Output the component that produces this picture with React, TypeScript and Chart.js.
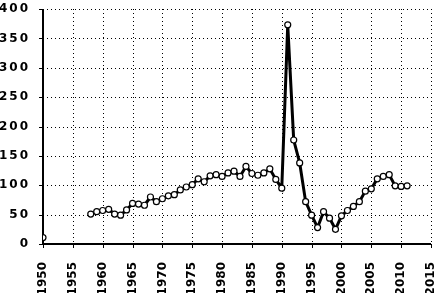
import React, { useEffect, useRef } from "react";
import { Chart, registerables } from "chart.js";

Chart.register(...registerables);

const years: number[] = [
  1950, 1951, 1952, 1953, 1954, 1955, 1956, 1957, 1958, 1959,
  1960, 1961, 1962, 1963, 1964, 1965, 1966, 1967, 1968, 1969,
  1970, 1971, 1972, 1973, 1974, 1975, 1976, 1977, 1978, 1979,
  1980, 1981, 1982, 1983, 1984, 1985, 1986, 1987, 1988, 1989,
  1990, 1991, 1992, 1993, 1994, 1995, 1996, 1997, 1998, 1999,
  2000, 2001, 2002, 2003, 2004, 2005, 2006, 2007, 2008, 2009,
  2010, 2011,
];

const values: (number | null)[] = [
  11, null, null, null, null, null, null, null, 51, 55,
  57, 59, 51, 49, 58, 69, 68, 66, 80, 72,
  77, 82, 84, 92, 97, 101, 111, 106, 116, 118,
  115, 121, 124, 115, 132, 120, 117, 121, 128, 110,
  95, 373, 177, 138, 72, 49, 28, 55, 44, 25,
  48, 57, 64, 72, 90, 94, 111, 115, 118, 99,
  98, 99,
];

const xMin = 1950;
const xMax = 2015;
const xStep = 5;
const yMin = 0;
const yMax = 400;
const yStep = 50;

const tickFont = { family: "'DejaVu Sans', sans-serif", weight: "bold" as const, size: 12 };

// Draws dotted grid lines, tick marks and axis lines from the scales' own ticks.
const dottedGridPlugin = {
  id: "dottedGrid",
  beforeDatasetsDraw(chart: any) {
    const { ctx, chartArea } = chart;
    const xs = chart.scales.x;
    const ys = chart.scales.y;
    ctx.save();
    ctx.strokeStyle = "#000";
    ctx.lineWidth = 1;
    ctx.setLineDash([1, 3]);
    xs.ticks.forEach((t: any) => {
      const px = Math.round(xs.getPixelForValue(t.value)) + 0.5;
      ctx.beginPath();
      ctx.moveTo(px, chartArea.top);
      ctx.lineTo(px, chartArea.bottom);
      ctx.stroke();
    });
    ys.ticks.forEach((t: any) => {
      const py = Math.round(ys.getPixelForValue(t.value)) + 0.5;
      ctx.beginPath();
      ctx.moveTo(chartArea.left, py);
      ctx.lineTo(chartArea.right, py);
      ctx.stroke();
    });
    ctx.setLineDash([]);
    ctx.lineWidth = 1;
    xs.ticks.forEach((t: any) => {
      const px = Math.round(xs.getPixelForValue(t.value)) + 0.5;
      ctx.beginPath();
      ctx.moveTo(px, chartArea.bottom);
      ctx.lineTo(px, chartArea.bottom + 4);
      ctx.stroke();
    });
    ys.ticks.forEach((t: any) => {
      const py = Math.round(ys.getPixelForValue(t.value)) + 0.5;
      ctx.beginPath();
      ctx.moveTo(chartArea.left - 4, py);
      ctx.lineTo(chartArea.left, py);
      ctx.stroke();
    });
    ctx.lineWidth = 2;
    ctx.beginPath();
    ctx.moveTo(chartArea.left, chartArea.top);
    ctx.lineTo(chartArea.left, chartArea.bottom);
    ctx.lineTo(chartArea.right, chartArea.bottom);
    ctx.stroke();
    ctx.restore();
  },
};

const ySpacingPlugin = {
  id: "ySpacing",
  afterLayout(chart: any) {
    const s = chart.scales.y;
    if (s && !s.__patched) {
      const orig = s.drawLabels.bind(s);
      s.drawLabels = (area: any) => {
        const ctx = chart.ctx;
        ctx.save();
        (ctx as any).letterSpacing = "2px";
        orig(area);
        ctx.restore();
      };
      s.__patched = true;
    }
  },
};

export default function App() {
  const ref = useRef<HTMLCanvasElement | null>(null);

  useEffect(() => {
    if (!ref.current) return;
    const points = years.map((x, i) => ({ x, y: values[i] }));
    const chart = new Chart(ref.current, {
      type: "line",
      data: {
        datasets: [
          {
            data: points as any,
            borderColor: "#000",
            borderWidth: 3,
            pointRadius: 3,
            pointBackgroundColor: "#fff",
            pointBorderColor: "#000",
            pointBorderWidth: 1.2,
            tension: 0,
            spanGaps: false,
          },
        ],
      },
      options: {
        animation: false,
        responsive: false,
        maintainAspectRatio: false,
        layout: { padding: { top: 9, right: 9, left: 0, bottom: 0 } },
        plugins: { legend: { display: false }, tooltip: { enabled: false } },
        scales: {
          x: {
            type: "linear",
            min: xMin,
            max: xMax,
            ticks: {
              stepSize: xStep,
              autoSkip: false,
              maxRotation: 90,
              minRotation: 90,
              padding: 10,
              color: "#000",
              font: tickFont,
              callback: (v: any) => String(v),
            },
            grid: { display: false },
            border: { display: false },
            afterFit: (s: any) => {
              s.height = 49;
              s.paddingLeft = 0;
              s.paddingRight = 0;
            },
          },
          y: {
            min: yMin,
            max: yMax,
            ticks: {
              stepSize: yStep,
              padding: 5,
              color: "#000",
              font: tickFont,
            },
            grid: { display: false },
            border: { display: false },
            afterFit: (s: any) => {
              s.width = 43;
              s.paddingTop = 0;
              s.paddingBottom = 0;
            },
          },
        },
      },
      plugins: [dottedGridPlugin, ySpacingPlugin],
    });
    return () => chart.destroy();
  }, []);

  return (
    <div style={{ position: "fixed", left: 0, top: 0, width: 440, height: 293, background: "#fff" }}>
      <canvas ref={ref} width={440} height={293} />
    </div>
  );
}
